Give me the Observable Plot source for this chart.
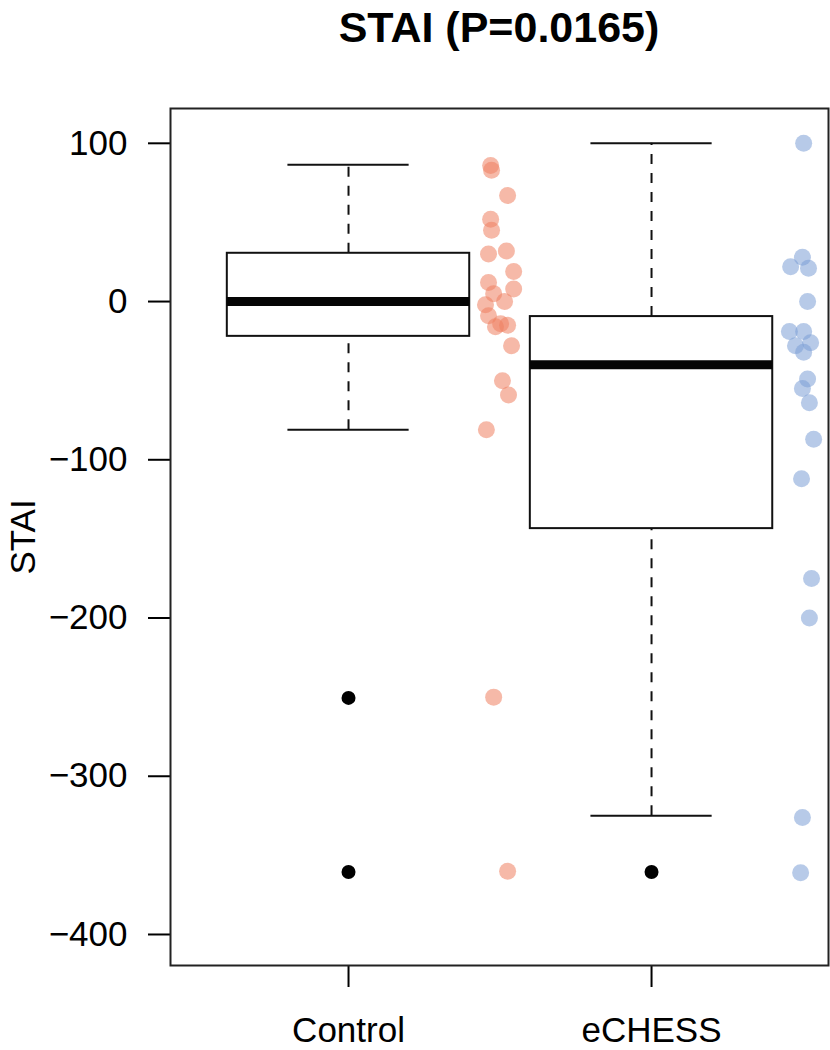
<!DOCTYPE html>
<html>
<head>
<meta charset="utf-8">
<script src="https://cdn.jsdelivr.net/npm/d3@7"></script>
<script src="https://cdn.jsdelivr.net/npm/@observablehq/plot@0.6"></script>
<style>
  html, body { margin: 0; padding: 0; background: #fff; }
  #title {
    width: 830px; height: 100px; box-sizing: border-box;
    padding-left: 168px; text-align: center;
    font: bold 43px "Liberation Sans", Arial, sans-serif;
    line-height: 54px; color: #000;
  }
</style>
</head>
<body>
<div id="title">STAI (P=0.0165)</div>
<div id="chart"></div>
<script>
// ---- Data ----
const groups = ["Control", "eCHESS"];
const groupPos = [1, 2];

// Box-plot statistics (hinges, median, whisker ends)
const boxQ1 = [-22, -143.5];
const boxMedian = [0, -40];
const boxQ3 = [30.5, -9.5];
const whiskerLow = [-81, -325];
const whiskerHigh = [86.5, 100];

// Outliers drawn on the box plot
const outlierGroup = ["Control", "Control", "eCHESS"];
const outlierValue = [-250.5, -360.5, -360.5];

// Strip-chart points (value and horizontal jitter offset from group position)
const controlValues = [86, 83, 67, 52, 45, 30, 32, 19, 12, 8, 5, 0, -2, -9, -16, -14, -15, -28, -50, -59, -81, -250, -360];
const controlJitter = [0.469, 0.472, 0.525, 0.469, 0.472, 0.462, 0.521, 0.545, 0.462, 0.545, 0.479, 0.515, 0.452, 0.462, 0.485, 0.502, 0.525, 0.538, 0.508, 0.528, 0.455, 0.479, 0.525];
const echessValues = [100, 22, 28, 21, 0, -19, -19, -26, -28, -32, -49, -55, -64, -87, -112, -175, -200, -326, -361];
const echessJitter = [0.502, 0.459, 0.498, 0.518, 0.515, 0.455, 0.502, 0.525, 0.475, 0.502, 0.515, 0.498, 0.521, 0.535, 0.495, 0.528, 0.521, 0.498, 0.492];

const yTicks = [100, 0, -100, -200, -300, -400];
const yLabel = "STAI";

// ---- Tables built from the arrays ----
const boxes = groups.map((g, i) => ({
  group: g, pos: groupPos[i], q1: boxQ1[i], median: boxMedian[i], q3: boxQ3[i],
  lo: whiskerLow[i], hi: whiskerHigh[i]
}));
const outliers = outlierValue.map((v, i) => ({pos: groupPos[groups.indexOf(outlierGroup[i])], value: v}));
const ctrlPts = controlValues.map((v, i) => ({x: groupPos[0] + controlJitter[i], value: v}));
const echPts = echessValues.map((v, i) => ({x: groupPos[1] + echessJitter[i], value: v}));

const BOX_HALF = 0.4, CAP_HALF = 0.2;
const fmt = d => d < 0 ? "\u2212" + (-d) : String(d);

const chart = Plot.plot({
  width: 830,
  height: 950,
  marginTop: 8,
  marginBottom: 85,
  marginLeft: 170,
  marginRight: 2,
  style: {fontFamily: "'Liberation Sans', Arial, sans-serif", fontSize: "35px", color: "#000", background: "#fff"},
  x: {type: "linear", domain: [0.4125, 2.584]},
  y: {domain: [-419.6, 122]},
  marks: [
    Plot.axisY({ticks: yTicks, tickSize: 22, tickPadding: 21, strokeWidth: 2, fontSize: 35,
      tickFormat: fmt, label: yLabel, labelAnchor: "center", labelOffset: 160, labelArrow: "none"}),
    Plot.axisX({ticks: groupPos, tickSize: 22, tickPadding: 30, strokeWidth: 2, fontSize: 35,
      tickFormat: d => groups[d - 1], label: null}),
    // whiskers (dashed)
    Plot.ruleX(boxes, {x: "pos", y1: "q3", y2: "hi", stroke: "#111", strokeWidth: 2, strokeDasharray: "10,9"}),
    Plot.ruleX(boxes, {x: "pos", y1: "lo", y2: "q1", stroke: "#111", strokeWidth: 2, strokeDasharray: "10,9"}),
    // whisker caps
    Plot.ruleY(boxes, {y: "hi", x1: d => d.pos - CAP_HALF, x2: d => d.pos + CAP_HALF, stroke: "#111", strokeWidth: 2}),
    Plot.ruleY(boxes, {y: "lo", x1: d => d.pos - CAP_HALF, x2: d => d.pos + CAP_HALF, stroke: "#111", strokeWidth: 2}),
    // boxes
    Plot.rect(boxes, {x1: d => d.pos - BOX_HALF, x2: d => d.pos + BOX_HALF, y1: "q1", y2: "q3",
      fill: "white", stroke: "#111", strokeWidth: 2}),
    // medians
    Plot.ruleY(boxes, {y: "median", x1: d => d.pos - BOX_HALF, x2: d => d.pos + BOX_HALF, stroke: "#050505", strokeWidth: 9}),
    // outliers
    Plot.dot(outliers, {x: "pos", y: "value", r: 7, fill: "#000", stroke: "none"}),
    // strip-chart points
    Plot.dot(ctrlPts, {x: "x", y: "value", r: 8.5, fill: "#EE8060", fillOpacity: 0.55, stroke: "none"}),
    Plot.dot(echPts, {x: "x", y: "value", r: 8.5, fill: "#7B9FD6", fillOpacity: 0.55, stroke: "none"}),
    Plot.frame({stroke: "#222", strokeWidth: 2})
  ]
});
document.getElementById("chart").appendChild(chart);
</script>
</body>
</html>
